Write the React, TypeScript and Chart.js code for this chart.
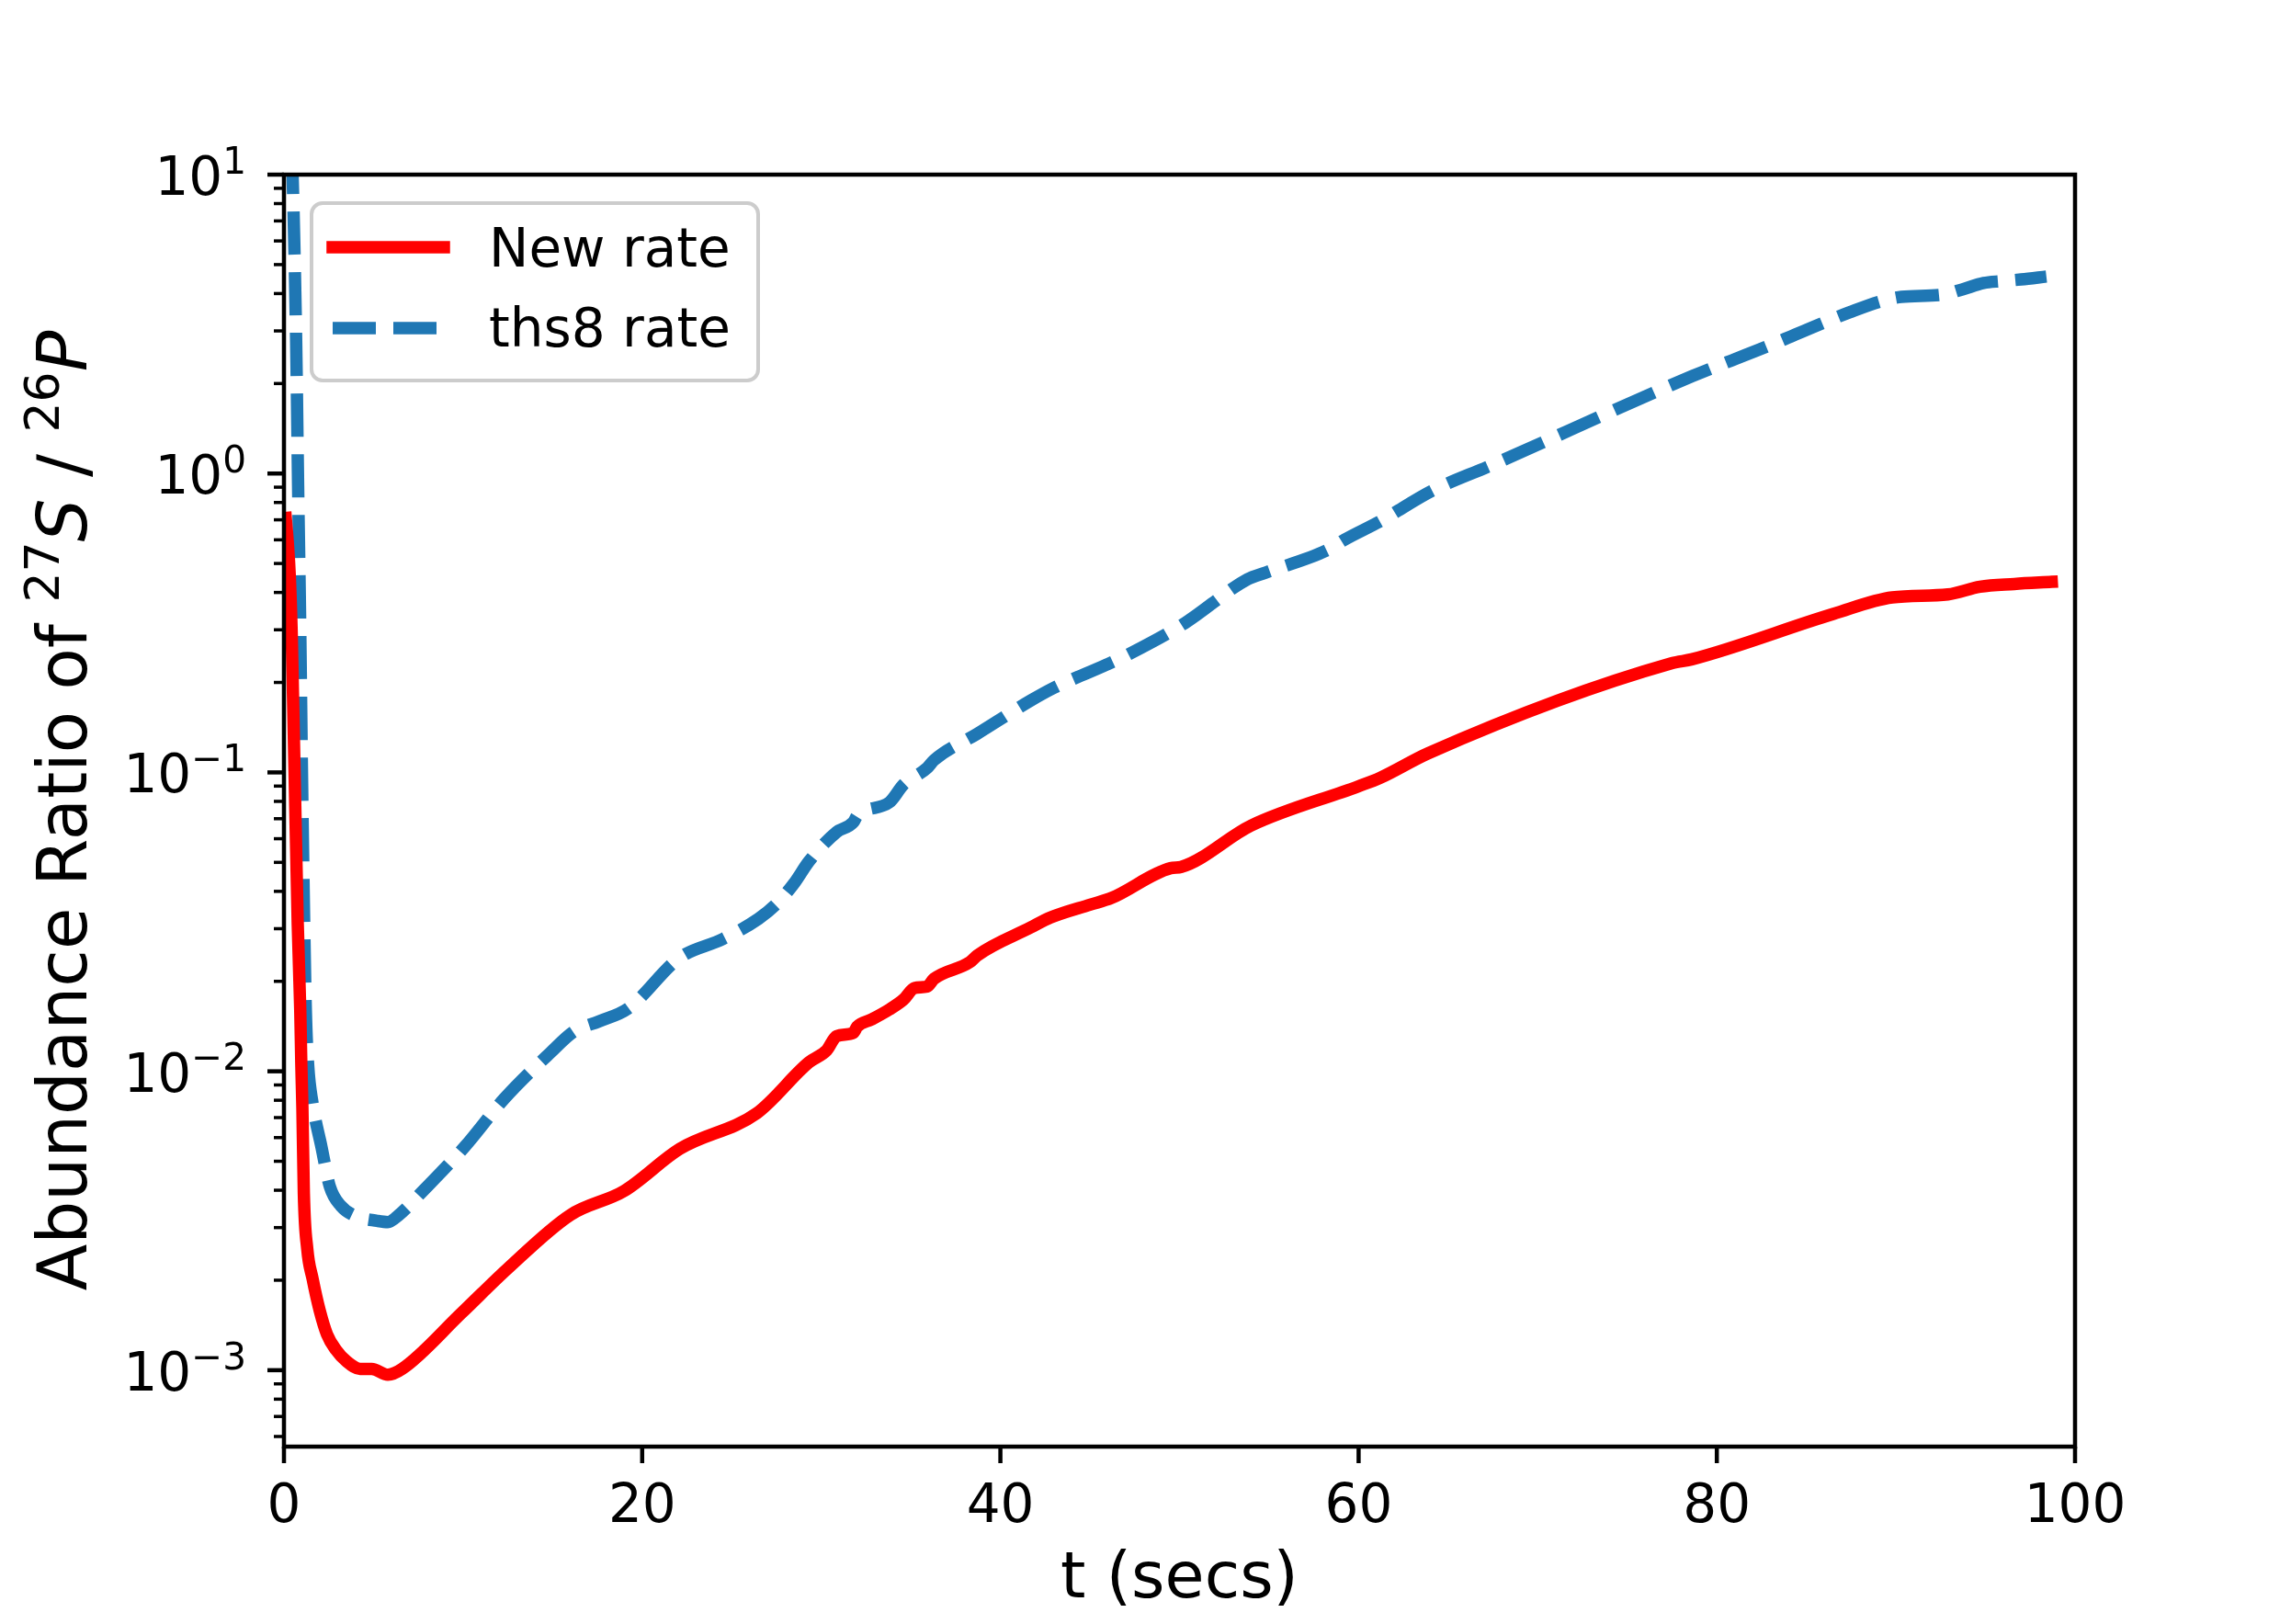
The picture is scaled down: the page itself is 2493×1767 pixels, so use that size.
import { useEffect, useRef } from "react";
import { Chart, registerables, type Plugin } from "chart.js";

Chart.register(...registerables);

const W = 2493;
const H = 1767;
const FONT = "'DejaVu Sans', sans-serif";

// New rate (red, solid)
const timeNew = [
  0.1, 0.22, 0.32, 0.43, 0.5, 0.6, 0.77, 0.91, 0.97, 1.03, 1.11, 1.3, 1.6, 2.0,
  2.4, 2.9, 3.5, 4.25, 4.9, 5.8, 6.6, 9.9, 12.5, 16.0, 19.0, 22.1, 26.4, 29.3,
  30.3, 30.85, 31.8, 32.0, 32.8, 33.8, 34.6, 35.2, 35.9, 36.3, 38.3, 38.7, 41.7,
  42.8, 45.0, 46.2, 49.5, 50.1, 54.0, 60.0, 61.2, 63.9, 77.5, 78.6, 86.5, 89.8,
  92.9, 94.7, 96.6, 98.7,
];
const ratioNew = [
  0.71, 0.58, 0.46, 0.295, 0.186, 0.095, 0.031, 0.016, 0.0105, 0.0075, 0.0039,
  0.00255, 0.00202, 0.00158, 0.00132, 0.00117, 0.00107, 0.00101, 0.00101,
  0.000966, 0.00101, 0.00155, 0.00219, 0.00331, 0.00398, 0.0055, 0.00724,
  0.0107, 0.01175, 0.0131, 0.01346, 0.0141, 0.0149, 0.0161, 0.0174, 0.019,
  0.0192, 0.0204, 0.0232, 0.0244, 0.0303, 0.0327, 0.0361, 0.038, 0.0478, 0.0483,
  0.0664, 0.0899, 0.0959, 0.116, 0.232, 0.239, 0.339, 0.385, 0.394, 0.418,
  0.427, 0.434,
];

// ths8 rate (blue, dashed)
const timeThs8 = [
  0.42, 0.48, 0.68, 0.79, 0.91, 1.01, 1.13, 1.22, 1.35, 1.6, 2.09, 2.57, 3.17,
  4.05, 5.2, 5.8, 6.4, 7.8, 10.1, 12.3, 14.85, 16.2, 17.6, 19.2, 22.1, 24.5,
  26.5, 27.5, 28.5, 29.3, 30.85, 31.8, 32.0, 33.8, 34.6, 35.9, 36.3, 38.7, 41.7,
  43.0, 45.9, 47.3, 50.3, 53.8, 54.8, 58.3, 59.2, 61.2, 64.1, 67.3, 78.65, 83.0,
  85.7, 87.4, 89.1, 90.3, 92.5, 93.7, 94.9, 95.85, 97.0, 98.4,
];
const ratioThs8 = [
  12, 10, 2.8, 0.91, 0.3, 0.095, 0.031, 0.016, 0.0105, 0.0078, 0.0056, 0.0041,
  0.00355, 0.00327, 0.00316, 0.00313, 0.0033, 0.004, 0.0056, 0.0081, 0.0115,
  0.0136, 0.0147, 0.0162, 0.024, 0.0277, 0.0324, 0.0363, 0.0427, 0.0503, 0.0631,
  0.0682, 0.0716, 0.0794, 0.0912, 0.1033, 0.11, 0.1346, 0.174, 0.192, 0.229,
  0.251, 0.316, 0.443, 0.466, 0.556, 0.6, 0.692, 0.875, 1.059, 2.12, 2.69, 3.15,
  3.46, 3.76, 3.9, 3.96, 4.13, 4.34, 4.4, 4.46, 4.56,
];

const seriesNames = ["New rate", "ths8 rate"];
const xTicks = [0, 20, 40, 60, 80, 100];
const yTickExponents = [-3, -2, -1, 0, 1];
const xMin = 0;
const xMax = 100;
const yMin = 5.55e-4;
const yMax = 10;

const RED = "#ff0000";
const BLUE = "#1f77b4";
const LINE_W = 13.5;
const DASH = [47, 19];

const toPoints = (t: number[], v: number[]) => t.map((x, i) => ({ x, y: v[i] }));

function drawPower(ctx: CanvasRenderingContext2D, exp: number, rightX: number, baseY: number, size: number) {
  const supSize = size * 0.7;
  const sup = exp < 0 ? "\u2212" + String(-exp) : String(exp);
  ctx.font = `${size}px ${FONT}`;
  const wb = ctx.measureText("10").width;
  ctx.font = `${supSize}px ${FONT}`;
  const ws = ctx.measureText(sup).width;
  const x0 = rightX - wb - ws;
  ctx.textAlign = "left";
  ctx.font = `${size}px ${FONT}`;
  ctx.fillText("10", x0, baseY);
  ctx.font = `${supSize}px ${FONT}`;
  ctx.fillText(sup, x0 + wb, baseY - 0.4 * size);
}

const axesPlugin: Plugin = {
  id: "mplAxes",
  beforeDraw(chart) {
    const ctx = chart.ctx;
    ctx.save();
    ctx.fillStyle = "#ffffff";
    ctx.fillRect(0, 0, chart.width, chart.height);
    ctx.restore();
  },
  afterDraw(chart) {
    const ctx = chart.ctx;
    const { left, right, top, bottom } = chart.chartArea;
    const xs = chart.scales.x;
    const ys = chart.scales.y;
    ctx.save();
    ctx.fillStyle = "#000";
    ctx.strokeStyle = "#000";
    ctx.textBaseline = "alphabetic";

    // minor y ticks
    ctx.lineWidth = 3.5;
    for (let e = -4; e <= 1; e++) {
      for (let k = 2; k <= 9; k++) {
        const v = k * Math.pow(10, e);
        if (v < yMin || v > yMax) continue;
        const py = ys.getPixelForValue(v);
        ctx.beginPath();
        ctx.moveTo(left, py);
        ctx.lineTo(left - 11, py);
        ctx.stroke();
      }
    }

    // major y ticks + labels
    ctx.lineWidth = 4.5;
    yTickExponents.forEach((e) => {
      const py = ys.getPixelForValue(Math.pow(10, e));
      ctx.beginPath();
      ctx.moveTo(left, py);
      ctx.lineTo(left - 18, py);
      ctx.stroke();
      drawPower(ctx, e, left - 41, py + 22, 58);
    });

    // x ticks + labels
    ctx.font = `58px ${FONT}`;
    ctx.textAlign = "center";
    xTicks.forEach((v) => {
      const px = xs.getPixelForValue(v);
      ctx.beginPath();
      ctx.moveTo(px, bottom);
      ctx.lineTo(px, bottom + 18);
      ctx.stroke();
      ctx.fillText(String(v), px, bottom + 82);
    });

    // spines
    ctx.lineWidth = 4.5;
    ctx.strokeRect(left, top, right - left, bottom - top);

    // x label
    ctx.font = `70px ${FONT}`;
    ctx.textAlign = "center";
    ctx.fillText("t (secs)", (left + right) / 2, 1738);

    // y label with math parts
    const segs: { text: string; size: number; italic: boolean; raise: number }[] = [
      { text: "Abundance Ratio of ", size: 74, italic: false, raise: 0 },
      { text: "27", size: 52, italic: false, raise: 30 },
      { text: "S", size: 74, italic: true, raise: 0 },
      { text: " / ", size: 74, italic: false, raise: 0 },
      { text: "26", size: 52, italic: false, raise: 30 },
      { text: "P", size: 74, italic: true, raise: 0 },
    ];
    const fontOf = (s: { size: number; italic: boolean }) => `${s.italic ? "oblique " : ""}${s.size}px ${FONT}`;
    let total = 0;
    const widths = segs.map((s) => {
      ctx.font = fontOf(s);
      const w = ctx.measureText(s.text).width;
      total += w;
      return w;
    });
    ctx.save();
    ctx.translate(94, (top + bottom) / 2);
    ctx.rotate(-Math.PI / 2);
    ctx.textAlign = "left";
    let cx = -total / 2;
    segs.forEach((s, i) => {
      ctx.font = fontOf(s);
      ctx.fillText(s.text, cx, -s.raise);
      cx += widths[i];
    });
    ctx.restore();

    // legend
    const bx = 339, by = 221, bw = 486, bh = 193;
    ctx.beginPath();
    ctx.roundRect(bx, by, bw, bh, 12);
    ctx.fillStyle = "rgba(255,255,255,0.8)";
    ctx.fill();
    ctx.lineWidth = 4;
    ctx.strokeStyle = "#cccccc";
    ctx.stroke();

    const rows = [
      { y: 269, color: RED, dash: [] as number[], cap: "square" as CanvasLineCap, text: seriesNames[0], base: 290 },
      { y: 357, color: BLUE, dash: DASH, cap: "butt" as CanvasLineCap, text: seriesNames[1], base: 377 },
    ];
    rows.forEach((r) => {
      ctx.beginPath();
      ctx.setLineDash(r.dash);
      ctx.lineCap = r.cap;
      ctx.lineWidth = LINE_W;
      ctx.strokeStyle = r.color;
      ctx.moveTo(362, r.y);
      ctx.lineTo(483, r.y);
      ctx.stroke();
      ctx.setLineDash([]);
      ctx.fillStyle = "#000";
      ctx.font = `58px ${FONT}`;
      ctx.textAlign = "left";
      ctx.fillText(r.text, 532, r.base);
    });
    ctx.restore();
  },
};

export default function App() {
  const canvasRef = useRef<HTMLCanvasElement | null>(null);
  const chartRef = useRef<Chart | null>(null);

  useEffect(() => {
    document.body.style.margin = "0";
    const canvas = canvasRef.current;
    if (!canvas) return;
    const ctx = canvas.getContext("2d");
    if (!ctx) return;
    if (chartRef.current) chartRef.current.destroy();

    chartRef.current = new Chart(ctx, {
      type: "line",
      data: {
        datasets: [
          {
            label: seriesNames[0],
            data: toPoints(timeNew, ratioNew),
            borderColor: RED,
            borderWidth: LINE_W,
            borderCapStyle: "square",
            borderJoinStyle: "round",
            pointRadius: 0,
            fill: false,
            cubicInterpolationMode: "monotone",
            clip: 0,
          },
          {
            label: seriesNames[1],
            data: toPoints(timeThs8, ratioThs8),
            borderColor: BLUE,
            borderWidth: LINE_W,
            borderDash: DASH,
            borderCapStyle: "butt",
            borderJoinStyle: "round",
            pointRadius: 0,
            fill: false,
            cubicInterpolationMode: "monotone",
            clip: 0,
          },
        ],
      },
      options: {
        animation: false,
        responsive: false,
        maintainAspectRatio: false,
        devicePixelRatio: 1,
        events: [],
        layout: { autoPadding: false, padding: { left: 0, top: 190, right: 235, bottom: 0 } },
        plugins: { legend: { display: false }, tooltip: { enabled: false }, title: { display: false } },
        scales: {
          x: {
            type: "linear",
            min: xMin,
            max: xMax,
            ticks: { display: false },
            grid: { display: false },
            border: { display: false },
            afterFit: (s: any) => {
              s.height = H - 1574;
            },
          },
          y: {
            type: "logarithmic",
            min: yMin,
            max: yMax,
            ticks: { display: false },
            grid: { display: false },
            border: { display: false },
            afterFit: (s: any) => {
              s.width = 309;
            },
          },
        },
      },
      plugins: [axesPlugin],
    });

    return () => {
      if (chartRef.current) {
        chartRef.current.destroy();
        chartRef.current = null;
      }
    };
  }, []);

  return (
    <div style={{ width: W, height: H }}>
      <canvas ref={canvasRef} width={W} height={H} style={{ display: "block", width: W, height: H }} />
    </div>
  );
}
